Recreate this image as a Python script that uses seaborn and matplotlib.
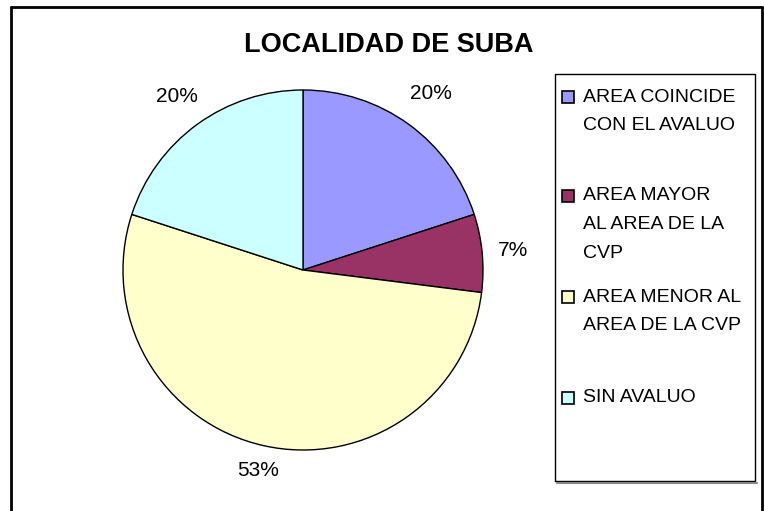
import matplotlib
matplotlib.use("Agg")
import numpy as np
import matplotlib.pyplot as plt
import seaborn as sns
from matplotlib.patches import Rectangle
from matplotlib.lines import Line2D

# data
categories = ["AREA COINCIDE\nCON EL AVALUO",
              "AREA MAYOR\nAL AREA DE LA\nCVP",
              "AREA MENOR AL\nAREA DE LA CVP",
              "SIN AVALUO"]
shares = [20, 7, 53, 20]
colors = ["#9999FF", "#993366", "#FFFFCC", "#CCFFFF"]
title = "LOCALIDAD DE SUBA"

sns.set_theme(style="white")
plt.rcParams['font.family'] = ['Liberation Sans', 'DejaVu Sans']
plt.rcParams['text.color'] = 'black'

W, H = 764, 511
fig = plt.figure(figsize=(W / 100, H / 100), dpi=100)
fig.patch.set_facecolor("white")


def fx(px):
    return px / W


def fy(py):
    return 1 - py / H


# pie: centre ~(303, 270), radius ~180 px
cx, cy, r = 303, 270, 180
ax = fig.add_axes([fx(cx - r), fy(cy + r), 2 * r / W, 2 * r / H])
wedges, texts = ax.pie(
    shares, colors=colors, startangle=90, counterclock=False,
    labels=[f"{v}%" for v in shares], labeldistance=1.18,
    wedgeprops=dict(edgecolor="black", linewidth=1.0),
    textprops=dict(fontsize=15, color="black"),
)
# Excel pushes the labels out a little unevenly
label_dist = [1.21, 1.17, 1.14, 1.19]
for w, t, d in zip(wedges, texts, label_dist):
    th = np.deg2rad((w.theta1 + w.theta2) / 2)
    t.set_position((d * np.cos(th), d * np.sin(th)))
    t.set_ha("center")
    t.set_va("center")
ax.set_xlim(-1, 1)
ax.set_ylim(-1, 1)
ax.set_aspect("equal")
ax.axis("off")

fig.text(fx(389), fy(45), title, ha="center", va="center",
         fontsize=19.5, fontweight="bold", color="black")

# outer chart border (open at the bottom)
bx0, bx1, by0 = 11, 762, 7
for xs, ys in [([bx0, bx0], [by0, H]), ([bx0, bx1], [by0, by0]), ([bx1, bx1], [by0, H])]:
    fig.add_artist(Line2D([fx(x) for x in xs], [fy(y) for y in ys], color="black",
                          lw=2, transform=fig.transFigure))

# legend box
lx0, lx1, ly0, ly1 = 555, 755, 74, 481
fig.add_artist(Line2D([fx(lx0 + 2), fx(lx1 + 2)], [fy(ly1 + 2), fy(ly1 + 2)],
                      color="#888888", lw=1.5, transform=fig.transFigure))
fig.add_artist(Rectangle((fx(lx0), fy(ly1)), fx(lx1) - fx(lx0), fy(ly0) - fy(ly1),
                         transform=fig.transFigure, facecolor="white",
                         edgecolor="black", lw=1.0))

entry_y = [97, 196, 297, 398]
step = 28.5
for label, col, y0 in zip(categories, colors, entry_y):
    fig.add_artist(Rectangle((fx(562), fy(y0 + 6)), 12 / W, 12 / H,
                             transform=fig.transFigure, facecolor=col,
                             edgecolor="black", lw=1.2))
    for i, line in enumerate(label.split("\n")):
        fig.text(fx(583), fy(y0 + i * step), line, ha="left", va="center",
                 fontsize=14, color="black")

fig.savefig("out.png", dpi=100, facecolor="white")
